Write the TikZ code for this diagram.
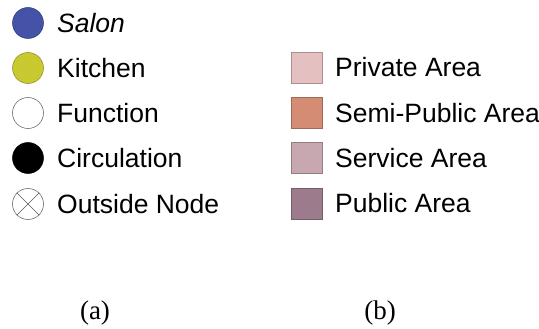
\documentclass[tikz,border=0pt]{standalone}
\usepackage{fontspec}
\setmainfont{Liberation Serif}
\newfontfamily\legendfont{Liberation Sans}
\definecolor{salonblue}{HTML}{4452A8}
\definecolor{kitchenyellow}{HTML}{C8C830}
\definecolor{privatearea}{HTML}{E4C0C0}
\definecolor{semipublicarea}{HTML}{D48C74}
\definecolor{servicearea}{HTML}{C8A8B0}
\definecolor{publicarea}{HTML}{9C7C8C}
\tikzset{
  x=1pt, y=-1pt,
  nodedot/.style={circle, minimum size=31pt, inner sep=0pt, draw=#1!70!black, line width=0.5pt},
  areabox/.style={rectangle, minimum size=31pt, inner sep=0pt, draw=#1!75!black, fill=#1, line width=0.6pt},
  legendtext/.style={anchor=west, inner sep=0pt, font=\legendfont\fontsize{26.5}{26.5}\selectfont},
  caption/.style={font=\fontsize{27}{27}\selectfont, inner sep=0pt}
}
\begin{document}
\begin{tikzpicture}
\useasboundingbox (0,0) rectangle (539,329);
% (a) node types
\node[nodedot=salonblue, fill=salonblue] (salon) at (28,23) {};
\node[legendtext] (salonT) at (57,23) {\itshape Salon};
\node[nodedot=kitchenyellow, fill=kitchenyellow] (kitchen) at (28,68) {};
\node[legendtext] (kitchenT) at (57,68) {Kitchen};
\node[nodedot=gray, fill=white] (function) at (28,113) {};
\node[legendtext] (functionT) at (57,113) {Function};
\node[nodedot=black, fill=black] (circulation) at (28,158) {};
\node[legendtext] (circulationT) at (57,158) {Circulation};
\node[nodedot=gray, fill=white] (outside) at (28,204) {};
\draw[gray!70!black, line width=0.6pt] (outside.north west) -- (outside.south east)
  (outside.north east) -- (outside.south west);
\node[legendtext] (outsideT) at (57,204) {Outside Node};
% (b) area types
\node[areabox=privatearea] (private) at (306.5,67.5) {};
\node[legendtext] (privateT) at (335,67.5) {Private Area};
\node[areabox=semipublicarea] (semi) at (306.5,113) {};
\node[legendtext] (semiT) at (335,113) {Semi-Public Area};
\node[areabox=servicearea] (service) at (306.5,158) {};
\node[legendtext] (serviceT) at (335,158) {Service Area};
\node[areabox=publicarea] (public) at (306.5,203.5) {};
\node[legendtext] (publicT) at (335,203.5) {Public Area};
% captions
\node[caption] (capA) at (95,313) {(a)};
\node[caption] (capB) at (380,313) {(b)};
\end{tikzpicture}
\end{document}
